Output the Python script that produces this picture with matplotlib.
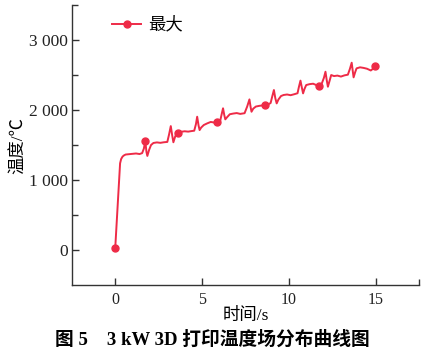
import numpy as np
import matplotlib
matplotlib.use("Agg")
import matplotlib.pyplot as plt

plt.rcParams['font.family'] = ['Liberation Serif', 'Noto Sans CJK SC', 'DejaVu Sans']

# Data
time_s = [0.0, 0.28, 0.34, 0.42, 0.5, 0.6, 0.8, 1.0, 1.2, 1.4, 1.55,
          1.65, 1.73, 1.8, 1.85, 1.95, 2.06, 2.2, 2.4, 2.6, 2.8, 3.0,
          3.1, 3.2, 3.28, 3.35, 3.45, 3.55, 3.64, 3.8, 4.0, 4.2, 4.4, 4.55,
          4.65, 4.72, 4.8, 4.86, 4.95, 5.1, 5.3, 5.5, 5.7, 5.88, 6.05,
          6.13, 6.21, 6.28, 6.34, 6.45, 6.6, 6.8, 7.0, 7.2, 7.45,
          7.6, 7.73, 7.8, 7.85, 7.95, 8.1, 8.3, 8.45, 8.63, 8.8, 8.95,
          9.05, 9.14, 9.22, 9.3, 9.4, 9.55, 9.7, 9.9, 10.1, 10.3, 10.5,
          10.58, 10.67, 10.75, 10.82, 10.9, 11.0, 11.2, 11.4, 11.55, 11.73, 11.9,
          12.02, 12.11, 12.18, 12.25, 12.35, 12.44, 12.6, 12.8, 13.0, 13.2, 13.4,
          13.52, 13.62, 13.68, 13.73, 13.82, 13.9, 14.1, 14.3, 14.5, 14.72, 14.85, 14.97]
temp_max = [30, 1240, 1300, 1335, 1352, 1365, 1370, 1375, 1380, 1372, 1385,
            1450, 1557, 1400, 1345, 1430, 1500, 1530, 1538, 1532, 1540, 1545,
            1650, 1771, 1640, 1540, 1620, 1665, 1676, 1690, 1697, 1692, 1700, 1705,
            1800, 1905, 1780, 1714, 1750, 1786, 1810, 1830, 1822, 1825, 1850,
            1940, 2025, 1930, 1867, 1900, 1940, 1950, 1957, 1945, 1955,
            2050, 2152, 2040, 1976, 2020, 2050, 2060, 2065, 2070, 2080, 2100,
            2200, 2286, 2170, 2095, 2150, 2200, 2215, 2222, 2212, 2225, 2240,
            2330, 2420, 2320, 2238, 2300, 2357, 2370, 2376, 2360, 2347, 2380,
            2460, 2547, 2430, 2333, 2420, 2500, 2485, 2492, 2478, 2495, 2505,
            2590, 2676, 2560, 2467, 2540, 2595, 2610, 2602, 2590, 2565, 2590, 2633]
marker_times = [0.0, 1.73, 3.64, 5.88, 8.63, 11.73, 14.97]

x_ticks = [0, 5, 10, 15]
y_ticks = [0, 1000, 2000, 3000]
y_labels = ['0', '1 000', '2 000', '3 000']

LINE_COLOR = '#EE2B47'

fig = plt.figure(figsize=(4.25, 3.56), dpi=100)
ax = fig.add_axes([0.169, 0.199, 0.817, 0.787])

marks = [int(np.argmin(np.abs(np.array(time_s) - t))) for t in marker_times]
ax.plot(time_s, temp_max, color=LINE_COLOR, lw=1.4, marker='o', ms=5,
        markevery=marks, label='最大')

ax.set_xlim(-2.5, 17.5)
ax.set_ylim(-500, 3500)
ax.set_xticks(x_ticks)
ax.set_yticks(y_ticks)
ax.set_yticklabels(y_labels)
ax.set_yticks([500, 1500, 2500, 3500], minor=True)
ax.set_xticks([17.5], minor=True)
for s in ['top', 'right']:
    ax.spines[s].set_visible(False)
for s in ['left', 'bottom']:
    ax.spines[s].set_linewidth(1.0)
    ax.spines[s].set_color('#333333')
ax.tick_params(which='major', direction='in', length=5, width=1.0,
               colors='#333333', labelcolor='#222222', pad=4)
ax.tick_params(which='minor', direction='in', length=4, width=1.0, colors='#333333')
ax.tick_params(axis='y', labelsize=12.5, pad=3)
ax.tick_params(axis='x', labelsize=11.5, pad=5)

ax.set_ylabel('温度/℃', fontsize=12.5, labelpad=1)
ax.set_xlabel('时间/s', fontsize=12.5, labelpad=0)

ax.legend(loc='upper left', bbox_to_anchor=(0.07, 1.012), frameon=False,
          fontsize=12.5, handlelength=1.7, handletextpad=0.4)

fig.text(0.5, 0.02, '图 5    3 kW 3D 打印温度场分布曲线图', ha='center', va='bottom',
         fontsize=13.5, fontweight='bold')

fig.savefig('out.png', dpi=100)
